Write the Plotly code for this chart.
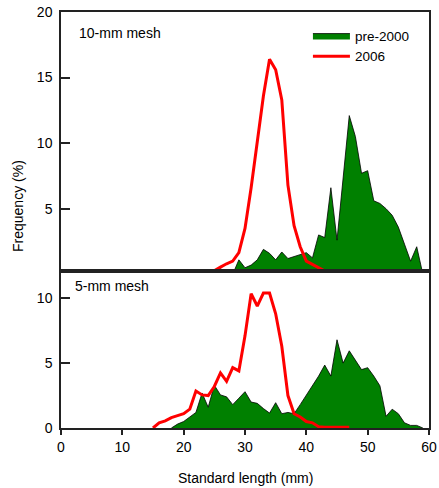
import plotly.graph_objects as go

# ---- data ----
len_top_pre2000 = list(range(25, 60))
freq_top_pre2000 = [0, 0.45, 0, 0, 1.1, 0.5, 0.7, 1.1, 1.9, 1.6, 1.1, 1.7, 1.2, 1.35, 1.55,
                    1.65, 1.25, 3.0, 2.8, 6.6, 2.6, 7.3, 12.1, 10.5, 7.7, 7.9, 5.6, 5.4, 5.0,
                    4.5, 3.6, 2.3, 1.0, 2.1, 0]
len_top_2006 = list(range(24, 45))
freq_top_2006 = [0, 0.3, 0.55, 0.8, 1.0, 1.65, 3.5, 6.6, 10.3, 13.6, 16.4, 15.6, 13.3, 6.8,
                 3.7, 2.1, 1.0, 0.75, 0.5, 0.25, 0]
len_bot_pre2000 = list(range(18, 60))
freq_bot_pre2000 = [0, 0.3, 0.5, 0.85, 1.2, 2.7, 1.6, 3.3, 2.55, 2.4, 1.8, 2.3, 2.8, 2.0, 1.9,
                    1.5, 1.15, 1.95, 1.1, 1.2, 1.1, 1.8, 2.55, 3.2, 4.0, 4.85, 4.0, 6.8, 5.0,
                    5.95, 5.2, 4.5, 4.65, 4.0, 3.25, 0.9, 1.45, 1.1, 0.4, 0.2, 0.2, 0]
len_bot_2006 = list(range(15, 48))
freq_bot_2006 = [0, 0.4, 0.55, 0.8, 0.95, 1.1, 1.45, 2.85, 2.55, 2.5, 3.2, 4.25, 3.6, 4.65,
                 4.4, 7.1, 10.35, 9.4, 10.4, 10.4, 8.8, 6.3, 2.5, 1.1, 0.85, 0.5, 0.4, 0.1,
                 0.05, 0.05, 0.05, 0.05, 0.05]

x_ticks = [0, 10, 20, 30, 40, 50, 60]
top_y_ticks = [5, 10, 15, 20]
bot_y_ticks = [0, 5, 10]

GREEN = "#008000"
RED = "#FF0000"
FONT = "Arial, Liberation Sans, sans-serif"

fig = go.Figure()
fig.add_trace(go.Scatter(x=len_top_pre2000, y=freq_top_pre2000, mode="lines", fill="tozeroy",
                         fillcolor=GREEN, line=dict(color="black", width=0.8),
                         name="pre-2000", xaxis="x", yaxis="y", legendrank=1))
fig.add_trace(go.Scatter(x=len_top_2006, y=freq_top_2006, mode="lines",
                         line=dict(color=RED, width=3), name="2006",
                         xaxis="x", yaxis="y", legendrank=2))
fig.add_trace(go.Scatter(x=len_bot_pre2000, y=freq_bot_pre2000, mode="lines", fill="tozeroy",
                         fillcolor=GREEN, line=dict(color="black", width=0.8),
                         name="pre-2000", showlegend=False, xaxis="x2", yaxis="y2"))
fig.add_trace(go.Scatter(x=len_bot_2006, y=freq_bot_2006, mode="lines",
                         line=dict(color=RED, width=3), name="2006", showlegend=False,
                         xaxis="x2", yaxis="y2"))

split = 157 / 416
axis_common = dict(showline=True, linecolor="#222", linewidth=1.5, mirror=True,
                   showgrid=False, zeroline=False,
                   tickfont=dict(family=FONT, size=14, color="black"))

fig.update_layout(
    width=439, height=488,
    margin=dict(l=61, r=10, t=12, b=60, autoexpand=False),
    plot_bgcolor="white", paper_bgcolor="white",
    font=dict(family=FONT, size=14, color="black"),
    showlegend=True,
    legend=dict(x=0.671, y=0.98, xanchor="left", yanchor="top",
                bgcolor="rgba(0,0,0,0)", font=dict(family=FONT, size=13.5),
                itemwidth=37, tracegroupgap=0),
    xaxis=dict(domain=[0, 1], range=[0, 60], anchor="y", showticklabels=False,
               ticks="", **axis_common),
    yaxis=dict(domain=[split, 1], range=[0.25, 20], anchor="x", tickvals=top_y_ticks,
               ticks="inside", ticklen=9, tickwidth=1.5, tickcolor="#222",
               ticklabelstandoff=4, **axis_common),
    xaxis2=dict(domain=[0, 1], range=[0, 60], anchor="y2", tickvals=x_ticks,
                ticks="outside", ticklen=5, tickwidth=1.5, tickcolor="#222",
                **axis_common),
    yaxis2=dict(domain=[0, split], range=[0, 12.1], anchor="x2", tickvals=bot_y_ticks,
                ticks="inside", ticklen=9, tickwidth=1.5, tickcolor="#222",
                ticklabelstandoff=4, **axis_common),
)

fig.add_annotation(text="Frequency (%)", textangle=-90, xref="paper", yref="paper",
                   x=(18 - 61) / 368, y=1 - (206 - 12) / 416, showarrow=False,
                   font=dict(family=FONT, size=14), xanchor="center", yanchor="middle")
fig.add_annotation(text="Standard length (mm)", xref="paper", yref="paper",
                   x=0.5, y=-(478 - 428) / 416, showarrow=False,
                   font=dict(family=FONT, size=14), xanchor="center", yanchor="middle")
fig.add_annotation(text="10-mm mesh", xref="paper", yref="paper",
                   x=(77 - 61) / 368, y=1 - (33 - 12) / 416, showarrow=False,
                   font=dict(family=FONT, size=14), xanchor="left", yanchor="middle")
fig.add_annotation(text="5-mm mesh", xref="paper", yref="paper",
                   x=(73 - 61) / 368, y=1 - (286 - 12) / 416, showarrow=False,
                   font=dict(family=FONT, size=14), xanchor="left", yanchor="middle")

fig.write_html("out.html")
